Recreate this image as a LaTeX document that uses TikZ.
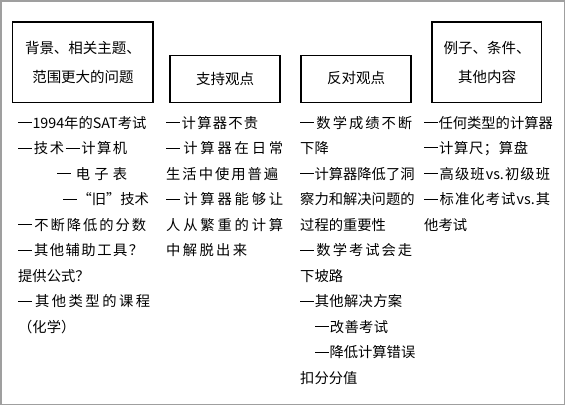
\documentclass[tikz,border=0pt]{standalone}
\usepackage{fontspec}
\setmainfont{Noto Sans CJK SC}
\makeatletter
\def\spreadloop#1{\ifx\relax#1\else#1\hfil\expandafter\spreadloop\fi}
\newcommand\spr[2]{\hbox to #1{\spreadloop#2\relax\unskip}}
\makeatother
\newcommand\dsh{\rule[0.36em]{0.98em}{0.065em}\hspace{0.02em}}
\tikzset{
  hbox/.style={draw=black, line width=1.1pt, fill=white},
  htxt/.style={font=\fontsize{14.5}{29}\selectfont, align=center, inner sep=0pt},
  item/.style={font=\fontsize{14.3}{16}\selectfont, anchor=west, inner sep=0pt}
}
\begin{document}
\begin{tikzpicture}[x=1pt,y=-1pt]
\useasboundingbox (0,0) rectangle (566,406);
\draw[gray!75, line width=1.6pt] (1,1) rectangle (564.5,404.5);
% header boxes
\draw[hbox] (12.6,22) rectangle (153,102.5);
\draw[hbox] (170,55.6) rectangle (280,102.5);
\draw[hbox] (301,55.6) rectangle (411,102.5);
\draw[hbox] (432,22) rectangle (541.5,102.5);
\node[htxt] (h1) at (83,62) {背景、相关主题、\\范围更大的问题};
\node[htxt] (h2) at (225,78.5) {支持观点};
\node[htxt] (h3) at (356,78.5) {反对观点};
\node[htxt] (h4) at (487,62) {例子、条件、\\其他内容};
% column 1
\node[item] (a1) at (18,123) {\dsh 1994年的SAT考试};
\node[item] (a2) at (18,148.5) {\spr{109pt}{\dsh 技术\dsh 计算机}};
\node[item] (a3) at (57,174) {\spr{70pt}{\dsh 电子表}};
\node[item] (a4) at (63,199.5) {\dsh“旧”技术};
\node[item] (a5) at (18,225) {\spr{128pt}{\dsh 不断降低的分数}};
\node[item] (a6) at (18,250.5) {\spr{125pt}{\dsh 其他辅助工具？}};
\node[item] (a7) at (18,276) {提供公式？};
\node[item] (a8) at (18,301.5) {\spr{132pt}{\dsh 其他类型的课程}};
\node[item] (a9) at (18,327) {（化学）};
% column 2
\node[item] (b1) at (166,123) {\spr{92pt}{\dsh 计算器不贵}};
\node[item] (b2) at (166,148.5) {\spr{117pt}{\dsh 计算器在日常}};
\node[item] (b3) at (166,174) {\spr{112pt}{生活中使用普遍}};
\node[item] (b4) at (166,199.5) {\spr{117pt}{\dsh 计算器能够让}};
\node[item] (b5) at (166,225) {\spr{117pt}{人从繁重的计算}};
\node[item] (b6) at (166,250.5) {\spr{81pt}{中解脱出来}};
% column 3
\node[item] (c1) at (300,123) {\spr{112pt}{\dsh 数学成绩不断}};
\node[item] (c2) at (300,148.5) {下降};
\node[item] (c3) at (300,174) {\spr{112pt}{\dsh 计算器降低了洞}};
\node[item] (c4) at (300,199.5) {\spr{112pt}{察力和解决问题的}};
\node[item] (c5) at (300,225) {过程的重要性};
\node[item] (c6) at (300,250.5) {\spr{112pt}{\dsh 数学考试会走}};
\node[item] (c7) at (300,276) {下坡路};
\node[item] (c8) at (300,301.5) {\spr{102pt}{\dsh 其他解决方案}};
\node[item] (c9) at (315,327) {\spr{73pt}{\dsh 改善考试}};
\node[item] (c10) at (315,352.5) {\dsh 降低计算错误};
\node[item] (c11) at (300,378) {扣分分值};
% column 4
\node[item] (d1) at (424,123) {\dsh 任何类型的计算器};
\node[item] (d2) at (424,148.5) {\spr{104pt}{\dsh 计算尺；算盘}};
\node[item] (d3) at (424,174) {\hbox to 126pt{\dsh\hfil 高\hfil 级\hfil 班\hfil vs.\hfil 初\hfil 级\hfil 班}};
\node[item] (d4) at (424,199.5) {\hbox to 126pt{\dsh\hfil 标\hfil 准\hfil 化\hfil 考\hfil 试\hfil vs.\hfil 其}};
\node[item] (d5) at (424,225) {他考试};
\end{tikzpicture}
\end{document}
